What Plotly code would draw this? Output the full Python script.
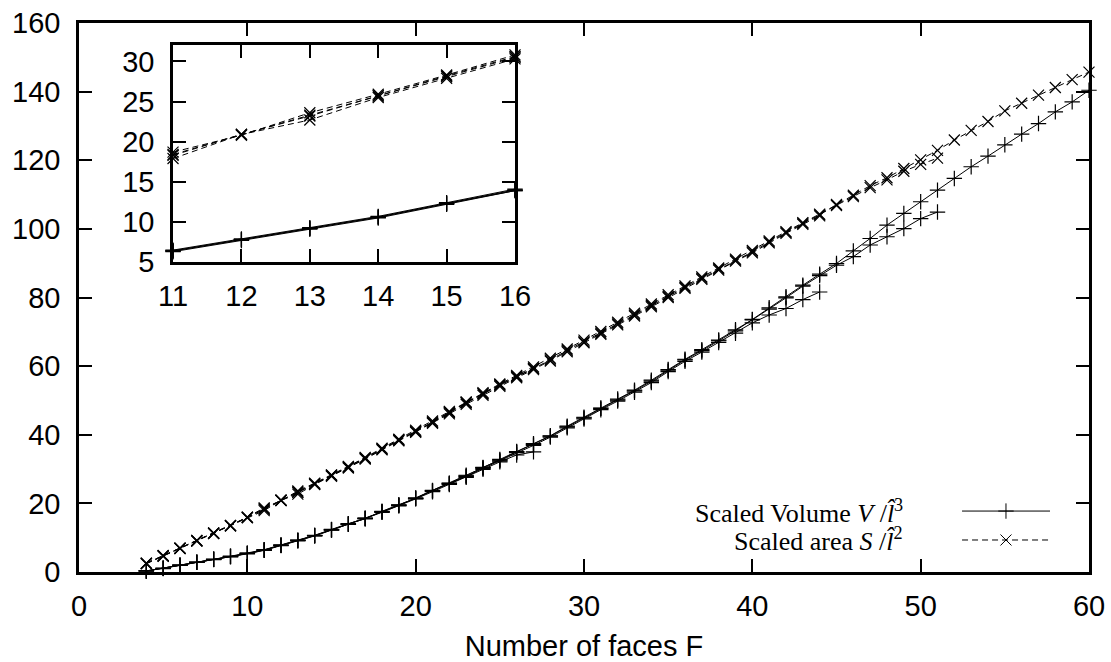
import plotly.graph_objects as go

# ---------------- data ----------------
F_A = list(range(4, 61))
F_B = list(range(4, 52))
F_C = list(range(4, 45))
F_D = list(range(4, 28))

vol_A = [0.3, 1.1, 2.0, 2.8, 3.7, 4.5, 5.4, 6.4, 7.8, 9.2, 10.6, 12.3, 14.0, 15.6, 17.6, 19.5,
         21.5, 23.7, 25.8, 28.0, 30.5, 32.6, 35.0, 37.2, 39.6, 42.3, 44.9, 47.7, 50.1, 52.8,
         55.6, 58.8, 61.8, 64.5, 67.4, 70.3, 73.6, 77.0, 80.2, 83.6, 86.8, 89.9, 93.6, 97.2,
         101.1, 104.5, 107.9, 111.3, 114.7, 118.1, 121.2, 124.5, 127.6, 130.7, 134.1, 137.0, 140.4]
vol_B = [0.3, 1.0, 1.9, 2.8, 3.6, 4.5, 5.3, 6.3, 7.7, 9.1, 10.5, 12.2, 13.9, 15.7, 17.5, 19.4,
         21.6, 23.6, 25.9, 28.2, 30.4, 32.8, 35.1, 37.4, 39.7, 42.5, 45.1, 47.8, 50.4, 53.0,
         55.9, 59.0, 62.0, 64.8, 67.6, 70.6, 73.5, 76.6, 79.9, 83.3, 86.4, 89.4, 91.9, 95.3,
         97.7, 100.1, 103.0, 104.9]
vol_C = [0.3, 1.1, 2.0, 2.9, 3.7, 4.6, 5.5, 6.5, 7.9, 9.3, 10.7, 12.4, 14.1, 15.5, 17.7, 19.6,
         21.4, 23.8, 25.7, 27.8, 30.2, 32.4, 34.8, 36.9, 39.3, 42.0, 44.6, 47.3, 49.8, 52.4,
         55.2, 58.4, 61.4, 64.1, 66.9, 69.6, 72.6, 74.9, 76.8, 79.4, 81.6]
vol_D = [0.3, 1.1, 2.0, 2.8, 3.7, 4.5, 5.4, 6.4, 7.8, 9.2, 10.6, 12.3, 13.9, 15.6, 17.4, 19.3,
         21.3, 23.4, 25.5, 27.6, 29.9, 32.1, 34.1, 35.0]

area_A = [2.5, 4.7, 6.9, 9.1, 11.3, 13.5, 15.9, 18.3, 20.9, 23.2, 25.7, 28.1, 30.5, 33.1, 35.8,
          38.4, 40.9, 43.6, 46.4, 49.3, 51.9, 54.4, 56.9, 59.3, 61.8, 64.6, 67.1, 69.6, 72.3,
          74.9, 77.7, 80.3, 83.0, 85.6, 88.3, 90.9, 93.3, 96.2, 99.0, 101.6, 104.1, 107.1,
          109.8, 112.6, 114.9, 117.6, 120.1, 122.9, 125.9, 128.7, 131.3, 134.4, 136.6, 139.0,
          141.2, 143.5, 145.7]
area_B = [2.4, 4.6, 6.8, 9.0, 11.2, 13.6, 16.0, 18.7, 20.8, 23.6, 25.9, 28.3, 30.8, 33.4, 36.1,
          38.7, 41.3, 44.0, 46.8, 49.6, 52.3, 54.8, 57.3, 59.8, 62.3, 65.0, 67.6, 70.1, 72.8,
          75.4, 78.1, 80.8, 83.4, 86.0, 88.6, 91.2, 93.7, 96.5, 99.2, 101.8, 104.3, 106.8,
          109.4, 112.0, 114.3, 116.8, 118.8, 120.6]
area_C = [2.6, 4.8, 7.0, 9.2, 11.4, 13.4, 15.8, 17.9, 20.9, 22.7, 25.5, 27.9, 30.3, 32.9, 35.6,
          38.2, 40.7, 43.3, 46.1, 48.9, 51.5, 54.1, 56.6, 59.0, 61.5, 64.2, 66.8, 69.3, 72.0,
          74.6, 77.3, 80.0, 82.7, 85.3, 88.0, 90.6, 93.0, 95.9, 98.7, 101.3, 103.8]
area_D = [2.5, 4.7, 6.9, 9.1, 11.3, 13.5, 15.9, 18.4, 20.9, 23.3, 25.7, 28.2, 30.6, 33.2, 35.9,
          38.5, 41.0, 43.7, 46.6, 49.4, 52.0, 54.6, 57.1, 59.4]

x_ticks = [0, 10, 20, 30, 40, 50, 60]
y_ticks = [0, 20, 40, 60, 80, 100, 120, 140, 160]
inset_x_ticks = [11, 12, 13, 14, 15, 16]
inset_y_ticks = [5, 10, 15, 20, 25, 30]

legend_labels = ["Scaled Volume <i>V</i> /<i>l\u0302</i><sup>3</sup>",
                 "Scaled area <i>S</i> /<i>l\u0302</i><sup>2</sup>"]

# ---------------- figure ----------------
fig = go.Figure()
DASH = "6px,4px"
MS = 11
MLW = 1.2

vol_runs = [(F_A, vol_A), (F_B, vol_B), (F_C, vol_C), (F_D, vol_D)]
area_runs = [(F_A, area_A), (F_B, area_B), (F_C, area_C), (F_D, area_D)]


def add_runs(runs, symbol, dash, xa, ya, lo=None, hi=None):
    for fx, fy in runs:
        if lo is not None:
            pts = [(a, b) for a, b in zip(fx, fy) if lo <= a <= hi]
            fx = [p[0] for p in pts]
            fy = [p[1] for p in pts]
        fig.add_trace(go.Scatter(
            x=fx, y=fy, mode="lines+markers", xaxis=xa, yaxis=ya,
            line=dict(color="black", width=1, dash=dash),
            marker=dict(symbol=symbol, size=MS, color="black",
                        line=dict(color="black", width=MLW)),
            cliponaxis=False, showlegend=False, hoverinfo="skip"))


add_runs(vol_runs, "cross-thin", "solid", "x", "y")
add_runs(area_runs, "x-thin", DASH, "x", "y")
add_runs(vol_runs, "cross-thin", "solid", "x2", "y2", 11, 16)
add_runs(area_runs, "x-thin", DASH, "x2", "y2", 11, 16)

# legend samples (markers on a hidden full-area axis pair)
leg_y = [0.1110, 0.0583]
leg_x0, leg_xm, leg_x1 = 0.8743, 0.9178, 0.9614
fig.add_trace(go.Scatter(x=[leg_xm], y=[leg_y[0]], mode="markers", xaxis="x3", yaxis="y3",
                         marker=dict(symbol="cross-thin", size=MS, color="black",
                                     line=dict(color="black", width=1)),
                         showlegend=False, hoverinfo="skip", cliponaxis=False))
fig.add_trace(go.Scatter(x=[leg_xm], y=[leg_y[1]], mode="markers", xaxis="x3", yaxis="y3",
                         marker=dict(symbol="x-thin", size=MS, color="black",
                                     line=dict(color="black", width=1)),
                         showlegend=False, hoverinfo="skip", cliponaxis=False))
fig.add_shape(type="line", xref="paper", yref="paper", x0=leg_x0, x1=leg_x1,
              y0=leg_y[0], y1=leg_y[0], line=dict(color="black", width=1))
fig.add_shape(type="line", xref="paper", yref="paper", x0=leg_x0, x1=leg_x1,
              y0=leg_y[1], y1=leg_y[1], line=dict(color="black", width=1, dash=DASH))
for lbl, yy in zip(legend_labels, leg_y):
    fig.add_annotation(x=0.8178, y=yy, xref="paper", yref="paper", text=lbl,
                       showarrow=False, xanchor="right", yanchor="middle",
                       font=dict(family="Liberation Serif", size=26, color="black"))

tickfont = dict(family="Liberation Sans", size=29, color="black")
axis_common = dict(showline=True, linecolor="black", linewidth=2.5, mirror="ticks",
                   ticks="inside", ticklen=13, tickwidth=2, tickcolor="black",
                   showgrid=False, zeroline=False, tickfont=tickfont, automargin=False)

fig.update_layout(
    width=1111, height=662,
    margin=dict(l=79, r=22, t=23, b=90),
    paper_bgcolor="white", plot_bgcolor="rgba(0,0,0,0)",
    xaxis=dict(range=[0, 60], tickvals=x_ticks, domain=[0, 1], anchor="y",
               ticklabelstandoff=6,
               title=dict(text="Number of faces F", font=tickfont, standoff=16),
               **axis_common),
    yaxis=dict(range=[0, 160], tickvals=y_ticks, domain=[0, 1], anchor="x",
               ticklabelstandoff=10, **axis_common),
    xaxis2=dict(range=[11, 16], tickvals=inset_x_ticks, domain=[0.0931, 0.4317],
                anchor="y2", ticklabelstandoff=6, **axis_common),
    yaxis2=dict(range=[5, 32], tickvals=inset_y_ticks, domain=[0.5644, 0.9594],
                anchor="x2", ticklabelstandoff=10, **axis_common),
    xaxis3=dict(range=[0, 1], domain=[0, 1], anchor="y3", visible=False),
    yaxis3=dict(range=[0, 1], domain=[0, 1], anchor="x3", visible=False),
    showlegend=False,
)

fig.write_html("out.html")
